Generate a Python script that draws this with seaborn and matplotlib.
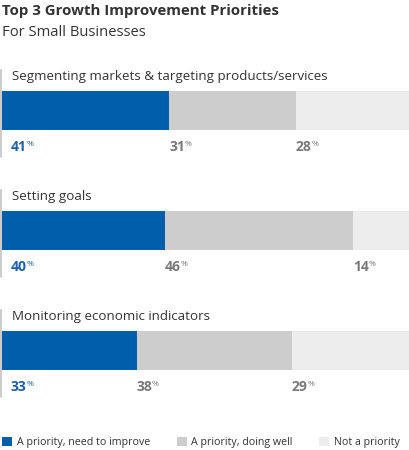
import matplotlib
matplotlib.use("Agg")
import matplotlib.pyplot as plt
import seaborn as sns
import pandas as pd

# datos
categorias = ["Segmenting markets & targeting products/services",
              "Setting goals",
              "Monitoring economic indicators"]
mejorar = [41, 40, 33]
bien = [31, 46, 38]
no_prioridad = [28, 14, 29]
series = ["A priority, need to improve", "A priority, doing well", "Not a priority"]
colores = ["#005EAA", "#CDCDCD", "#EDEDED"]

sns.set_theme(style="white")
plt.rcParams["font.family"] = ["Open Sans", "DejaVu Sans"]

fig = plt.figure(figsize=(4.1, 4.5), dpi=100)
ax = fig.add_axes([0, 0, 1, 1])

df = pd.DataFrame({"cat": categorias, "a": mejorar, "b": bien, "c": no_prioridad})
df["ab"] = df["a"] + df["b"]
df["abc"] = df["ab"] + df["c"]

# barras apiladas: se dibuja el total y encima los acumulados
for col, color, lab in [("abc", colores[2], series[2]),
                        ("ab", colores[1], series[1]),
                        ("a", colores[0], series[0])]:
    sns.barplot(data=df, x=col, y="cat", color=color, width=0.325, linewidth=0,
                saturation=1, label=lab, ax=ax, orient="h")

# escala: 4.08 px por unidad en x, 120 px por fila en y
px = 4.08
ax.set_xlim(-2 / px, 100)
ax.set_ylim((450 - 110.5) / 120, -110.5 / 120)
ax.axis("off")

def xd(p):
    return (p - 2) / px

for i, cat in enumerate(categorias):
    # linea gris a la izquierda
    ax.plot([xd(0.8), xd(0.8)], [i - 40.5 / 120, i + 46.5 / 120], color="#cccccc", lw=1.4, zorder=0)
    ax.text(xd(12), i - 30.5 / 120, cat, fontsize=9.65, color="#333333", va="baseline")
    inicios = [0, mejorar[i], mejorar[i] + bien[i]]
    valores = [mejorar[i], bien[i], no_prioridad[i]]
    for j, (ini, v) in enumerate(zip(inicios, valores)):
        c = "#1f5fa8" if j == 0 else "#7a7a7a"
        x = xd(11) if j == 0 else ini
        t = ax.text(x, i + 40.5 / 120, str(v), fontsize=10, weight="bold", color=c, va="baseline")
        ax.annotate("%", xy=(1, 1), xycoords=t, xytext=(-0.3, -0.6), textcoords="offset points",
                    va="top", ha="left", fontsize=6, color=c)

fig.text(2 / 410, 1 - 15 / 450, "Top 3 Growth Improvement Priorities", fontsize=10.8,
         weight="bold", color="#333333", va="baseline")
fig.text(2 / 410, 1 - 36 / 450, "For Small Businesses", fontsize=10.6,
         color="#333333", va="baseline")

h, l = ax.get_legend_handles_labels()
ax.legend(h[::-1], l[::-1], ncol=3, loc="lower left", bbox_to_anchor=(2 / 410, 2 / 450),
          frameon=False, fontsize=7.7, handlelength=0.96, handleheight=0.96,
          handletextpad=0.4, columnspacing=2.5, borderpad=0, borderaxespad=0,
          labelcolor="#333333")

fig.savefig("out.png", dpi=100)
